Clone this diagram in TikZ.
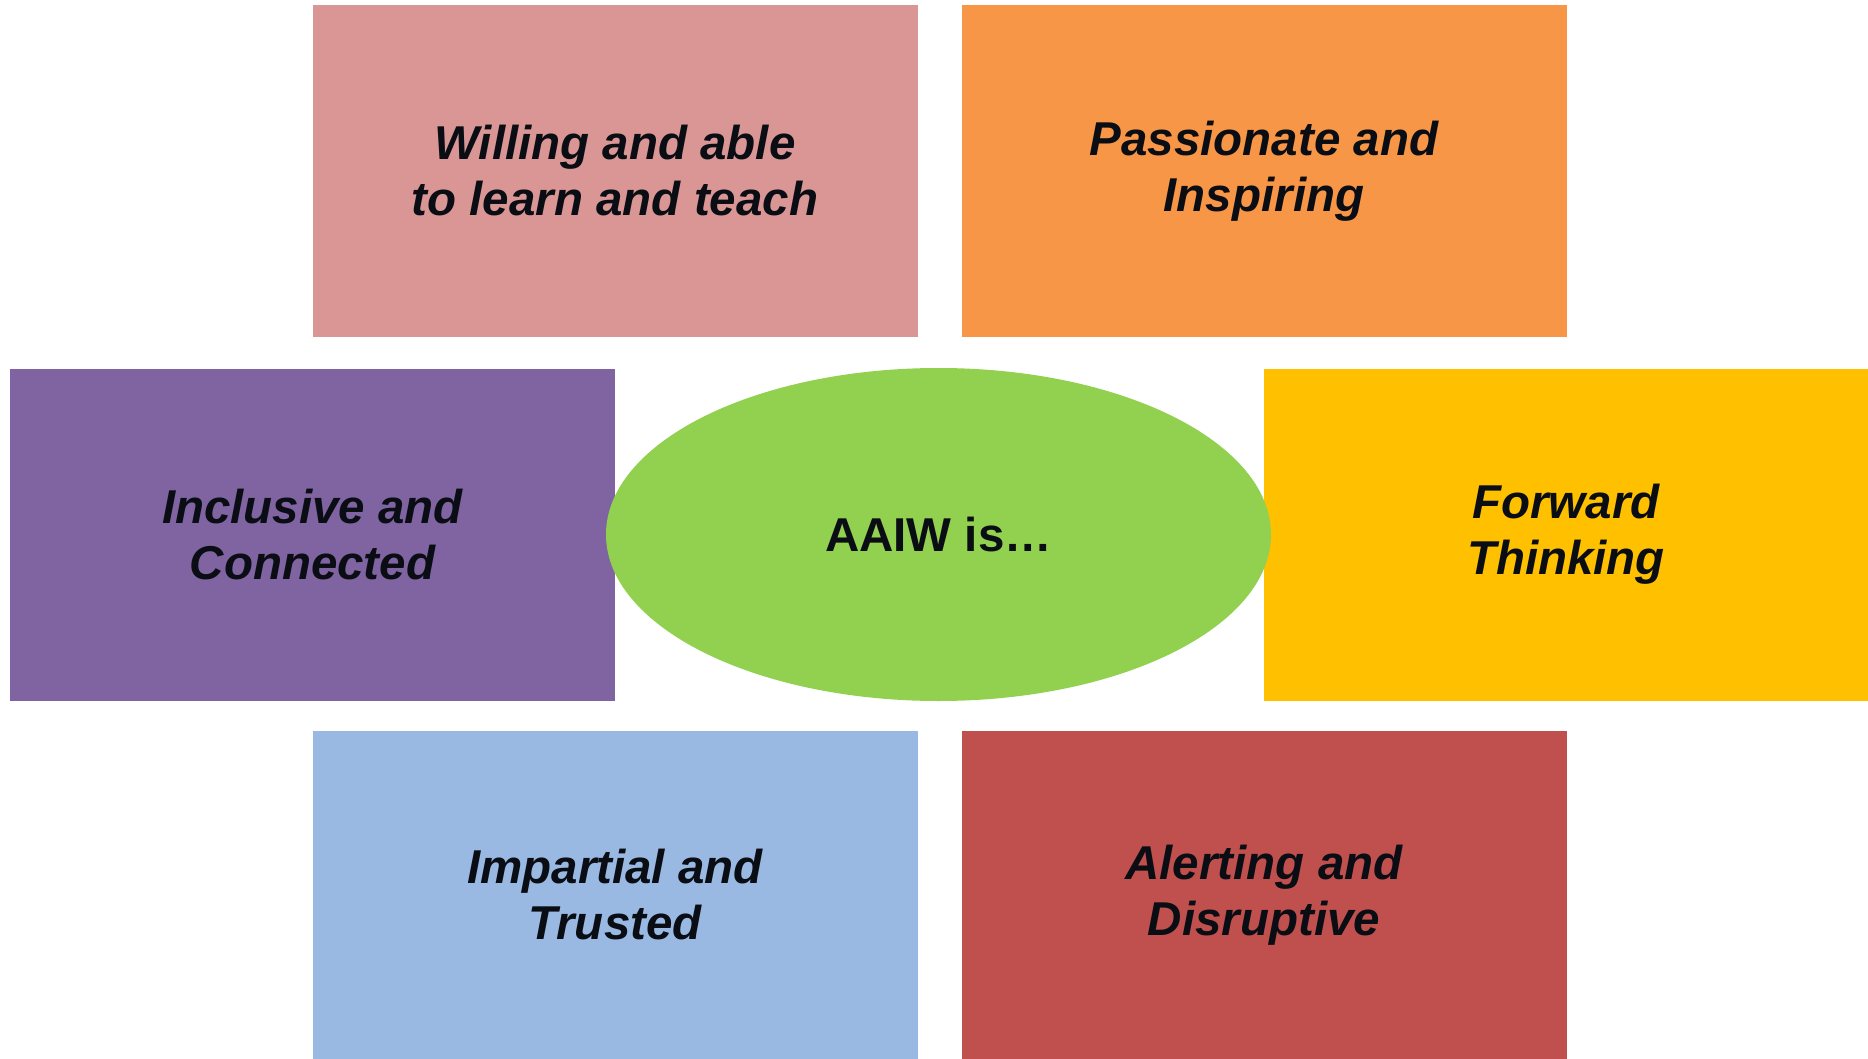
\documentclass[tikz,border=0pt]{standalone}
\usepackage{fontspec}
\setmainfont{Liberation Sans}
\usetikzlibrary{shapes.geometric}
\definecolor{cpink}{HTML}{D99694}
\definecolor{corange}{HTML}{F79646}
\definecolor{cpurple}{HTML}{8064A2}
\definecolor{cyellow}{HTML}{FFC000}
\definecolor{cblue}{HTML}{99B9E3}
\definecolor{cred}{HTML}{C0504D}
\definecolor{cgreen}{HTML}{92D050}
\definecolor{ctext}{HTML}{0A0E14}
\begin{document}
\begin{tikzpicture}[x=1pt, y=-1pt,
  tile/.style={rectangle, draw=none, inner sep=0pt, align=center,
    minimum width=605pt, minimum height=332pt, text=ctext,
    font=\fontsize{47.5}{56}\selectfont\bfseries\itshape},
  hub/.style={ellipse, draw=none, fill=cgreen, inner sep=0pt,
    minimum width=665pt, minimum height=333pt, text=ctext,
    font=\fontsize{47.5}{56}\selectfont\bfseries}]
  \useasboundingbox (0,0) rectangle (1868,1059);
  % outer tiles
  \node[tile, fill=cpink]   (learn)   at (615,171)    {Willing and able\\to learn and teach};
  \node[tile, fill=corange] (passion) at (1264,171)   {Passionate and\\Inspiring};
  \node[tile, fill=cpurple] (incl)    at (312.5,534.5){Inclusive and\\Connected};
  \node[tile, fill=cyellow, minimum width=604pt] (fwd) at (1566,534.5) {Forward\\Thinking};
  \node[tile, fill=cblue, minimum height=328pt]   (impart) at (615,895)  {Impartial and\\Trusted};
  \node[tile, fill=cred, minimum height=328pt]    (alert)  at (1264,895) {Alerting and\\Disruptive};
  % central ellipse
  \node[hub] (aaiw) at (938.5,534.5) {AAIW is\ldots};
\end{tikzpicture}
\end{document}
